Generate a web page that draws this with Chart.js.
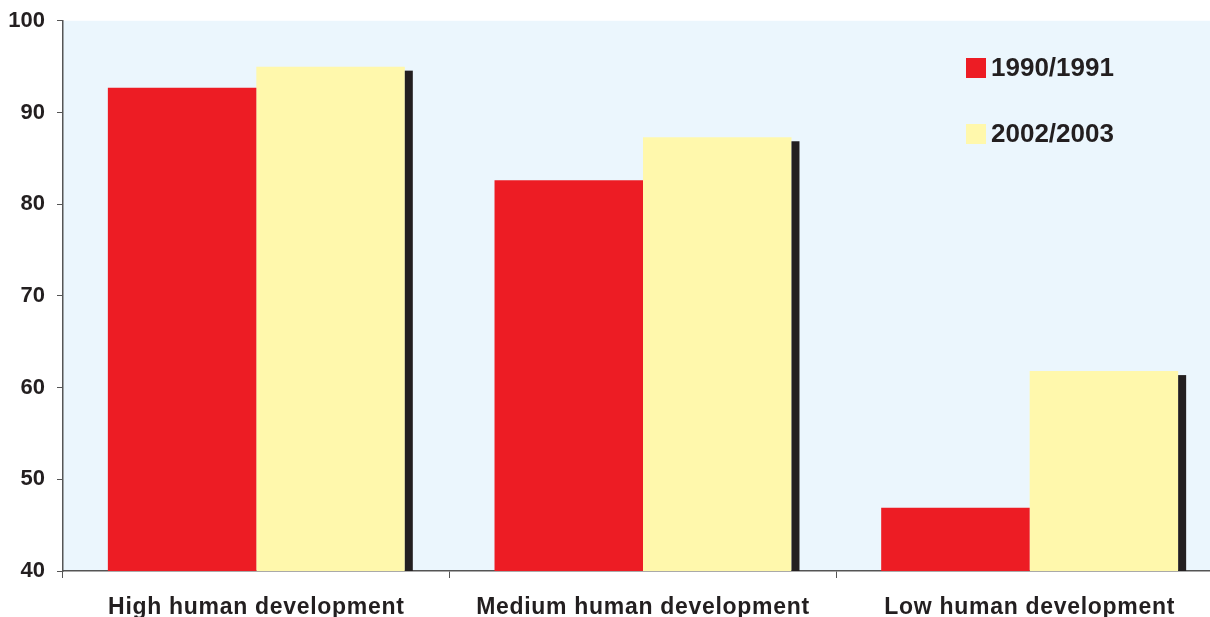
<!DOCTYPE html>
<html>
<head>
<meta charset="utf-8">
<script src="https://cdn.jsdelivr.net/npm/chart.js@4"></script>
<style>
  html, body { margin: 0; padding: 0; background: #ffffff; overflow: hidden; }
  #wrap { position: relative; width: 1210px; height: 617px; overflow: hidden; }
  #box { position: absolute; left: 0; top: 0; width: 1223px; height: 617px; }
</style>
</head>
<body>
<div id="wrap"><div id="box"><canvas id="c" width="1223" height="617"></canvas></div></div>
<script>
const categories = ["High human development", "Medium human development", "Low human development"];
const seriesLabels = ["1990/1991", "2002/2003"];
const values1990 = [92.7, 82.6, 46.9];
const values2002 = [95.0, 87.3, 61.8];
const yTicks = [40, 50, 60, 70, 80, 90, 100];

const RED = "#ED1C24";
const YELLOW = "#FFF8AC";
const DARK = "#231F20";
const PLOT_BG = "#EBF6FD";

const bgPlugin = {
  id: "plotBg",
  beforeDraw(chart) {
    const { ctx, chartArea: a } = chart;
    ctx.save();
    ctx.fillStyle = PLOT_BG;
    ctx.fillRect(a.left, a.top, a.right - a.left, a.bottom - a.top);
    ctx.restore();
    const xs = chart.scales.x;
    if (xs && !xs._spacedLabels) {
      const orig = xs.drawLabels;
      xs.drawLabels = function (area) {
        const c = this.ctx;
        c.save();
        c.letterSpacing = "0.7px";
        orig.call(this, area);
        c.restore();
      };
      xs._spacedLabels = true;
    }
  }
};

const shadowPlugin = {
  id: "barShadow",
  afterDatasetsDraw(chart) {
    const { ctx } = chart;
    const meta = chart.getDatasetMeta(1);
    const base = chart.scales.y.getPixelForValue(40);
    ctx.save();
    ctx.fillStyle = DARK;
    meta.data.forEach(bar => {
      const p = bar.getProps(["x", "y", "width"], true);
      const right = p.x + p.width / 2;
      ctx.fillRect(right, p.y + 4, 8, base - p.y - 4);
    });
    ctx.restore();
  }
};

const legendPlugin = {
  id: "customLegend",
  afterDraw(chart) {
    const { ctx } = chart;
    ctx.save();
    ctx.font = "bold 26px 'Liberation Sans', Arial, sans-serif";
    ctx.textBaseline = "middle";
    ctx.textAlign = "left";
    chart.data.datasets.forEach((ds, i) => {
      const y = 58 + i * 66;
      ctx.fillStyle = ds.backgroundColor;
      ctx.fillRect(966, y, 20, 20);
      ctx.fillStyle = DARK;
      ctx.fillText(ds.label, 991, y + 11);
    });
    ctx.restore();
  }
};

new Chart(document.getElementById("c"), {
  type: "bar",
  data: {
    labels: categories,
    datasets: [
      { label: seriesLabels[0], data: values1990, backgroundColor: RED, borderWidth: 0 },
      { label: seriesLabels[1], data: values2002, backgroundColor: YELLOW, borderWidth: 0 }
    ]
  },
  options: {
    responsive: false,
    animation: false,
    devicePixelRatio: 1,
    layout: { padding: { top: 20, right: 0, left: 0, bottom: 0 } },
    datasets: { bar: { categoryPercentage: 0.768, barPercentage: 1.0 } },
    plugins: { legend: { display: false }, tooltip: { enabled: false } },
    scales: {
      x: {
        offset: true,
        grid: { offset: true, drawOnChartArea: false, drawTicks: true, tickLength: 7, color: "#555555", lineWidth: 1 },
        border: { display: true, color: "#555555", width: 1.5 },
        ticks: { color: DARK, padding: 16, font: { family: "'Liberation Sans', Arial, sans-serif", size: 23, weight: "bold" }, maxRotation: 0, autoSkip: false },
        afterFit(scale) { scale.height = 46; }
      },
      y: {
        min: 40, max: 100,
        afterBuildTicks(scale) { scale.ticks = yTicks.map(v => ({ value: v })); },
        grid: { drawOnChartArea: false, drawTicks: true, tickLength: 6, color: "#555555" },
        border: { display: true, color: "#555555", width: 1.5 },
        ticks: { color: DARK, padding: 12, font: { family: "'Liberation Sans', Arial, sans-serif", size: 22, weight: "bold", lineHeight: 0.8 } },
        afterFit(scale) { scale.width = 63; }
      }
    }
  },
  plugins: [bgPlugin, shadowPlugin, legendPlugin]
});
</script>
</body>
</html>
